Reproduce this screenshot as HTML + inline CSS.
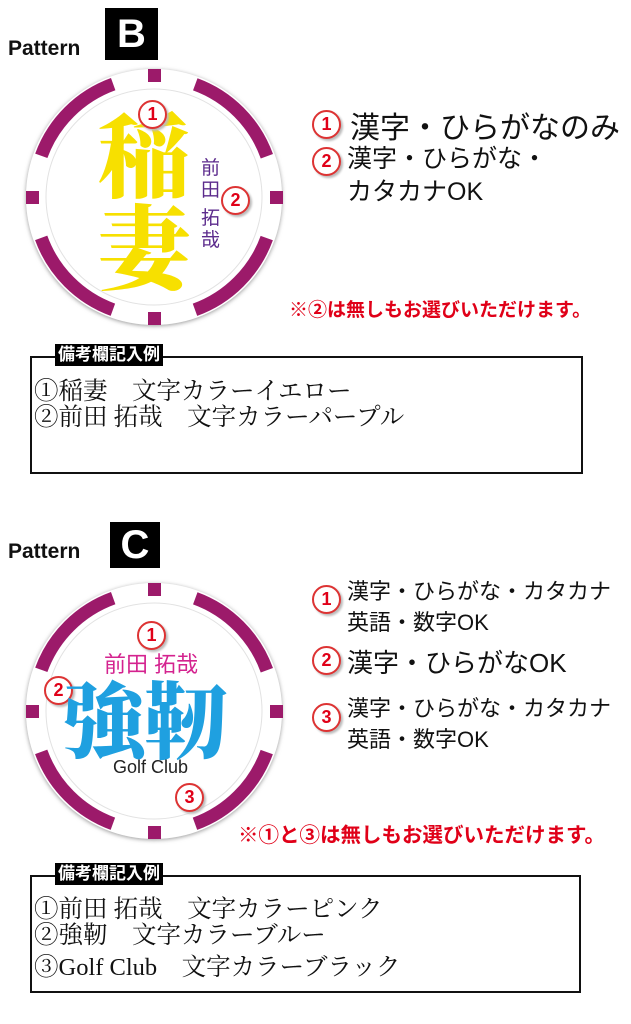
<!DOCTYPE html>
<html><head><meta charset="utf-8"><style>
body{margin:0;width:631px;height:1024px;background:#fff;position:relative;overflow:hidden;font-family:"Liberation Sans","Noto Sans CJK JP",sans-serif}
.a{position:absolute;white-space:nowrap}
.pt{font-weight:bold;font-size:21px;color:#111}
.bx{background:#000;color:#fff;font-weight:bold;font-size:40px;text-align:center;line-height:52px}
.m{position:absolute;width:25px;height:25px;border-radius:50%;background:#fff;border:2px solid #d33;color:#e00018;font-weight:bold;font-size:18px;text-align:center;line-height:25px;box-shadow:2px 2px 2px #bbb}
.t{color:#111}
.box{position:absolute;border:2.5px solid #111}
.lab{position:absolute;background:#000;color:#fff;font-weight:bold;font-size:17px;padding:0 3px;line-height:22px}
.ser{font-family:"Liberation Serif","Noto Serif CJK SC",serif;font-size:24.5px;color:#111;line-height:26px}
.note{color:#e00018;font-weight:bold}
</style></head><body>
<div class="a pt" style="left:8px;top:37px">Pattern</div>
<div class="a bx" style="left:105px;top:8px;width:53px;height:52px">B</div>
<svg class="a" style="left:0;top:0" width="631" height="1024">
<defs><filter id="sh"><feDropShadow dx="0" dy="1" stdDeviation="2" flood-color="#999"/></filter></defs>
<g>
<circle cx="154" cy="197" r="128" fill="#fff" filter="url(#sh)"/>
<circle cx="154" cy="197" r="120" fill="none" stroke="#9c1a6a" stroke-width="13" stroke-dasharray="104.7 83.8" stroke-dashoffset="-41.9"/>
<circle cx="154" cy="197" r="108" fill="none" stroke="#e2e2e2" stroke-width="1"/>
<rect x="148" y="69" width="13" height="13" fill="#9c1a6a"/><rect x="148" y="312" width="13" height="13" fill="#9c1a6a"/>
<rect x="26" y="191" width="13" height="13" fill="#9c1a6a"/><rect x="270" y="191" width="13" height="13" fill="#9c1a6a"/>
</g>
<g>
<circle cx="154" cy="711" r="128" fill="#fff" filter="url(#sh)"/>
<circle cx="154" cy="711" r="120" fill="none" stroke="#9c1a6a" stroke-width="13" stroke-dasharray="104.7 83.8" stroke-dashoffset="-41.9"/>
<circle cx="154" cy="711" r="108" fill="none" stroke="#e2e2e2" stroke-width="1"/>
<rect x="148" y="583" width="13" height="13" fill="#9c1a6a"/><rect x="148" y="826" width="13" height="13" fill="#9c1a6a"/>
<rect x="26" y="705" width="13" height="13" fill="#9c1a6a"/><rect x="270" y="705" width="13" height="13" fill="#9c1a6a"/>
</g>
</svg>
<div class="a" style="left:98px;top:105px;font-family:'Noto Serif CJK SC',serif;font-weight:900;font-size:92px;line-height:92px;color:#f7e000">稲<br>妻</div>
<div class="a" style="left:201px;top:158px;font-size:19px;line-height:22px;color:#5b2a8c;width:22px;white-space:normal">前田<br><span style="display:block;height:6px"></span>拓哉</div>
<div class="m" style="left:138px;top:100px">1</div>
<div class="m" style="left:221px;top:186px">2</div>

<div class="m" style="left:312px;top:110px">1</div>
<div class="a t" style="left:350px;top:103px;font-size:30px">漢字・ひらがなのみ</div>
<div class="m" style="left:312px;top:147px">2</div>
<div class="a t" style="left:347px;top:143px;font-size:25px;line-height:33px">漢字・ひらがな・<br>カタカナOK</div>
<div class="a note" style="left:289px;top:295px;font-size:19px">※②は無しもお選びいただけます。</div>

<div class="box" style="left:30px;top:356px;width:549px;height:114px"></div>
<div class="lab" style="left:55px;top:344px">備考欄記入例</div>
<div class="a ser" style="left:34px;top:379px">①稲妻　文字カラーイエロー<br>②前田 拓哉　文字カラーパープル</div>

<div class="a pt" style="left:8px;top:540px">Pattern</div>
<div class="a bx" style="left:110px;top:522px;width:50px;height:46px;line-height:46px">C</div>
<div class="m" style="left:137px;top:621px">1</div>
<div class="a" style="left:104px;top:647px;font-size:22px;color:#d4238f">前田 拓哉</div>
<div class="m" style="left:44px;top:676px">2</div>
<div class="a" style="left:62px;top:672px;font-family:'Noto Serif CJK SC',serif;font-weight:900;font-size:84px;line-height:90px;color:#1fa0e0;letter-spacing:-2px">強靭</div>
<div class="a" style="left:113px;top:757px;font-size:18px;color:#222">Golf Club</div>
<div class="m" style="left:175px;top:783px">3</div>

<div class="m" style="left:312px;top:585px">1</div>
<div class="a t" style="left:347px;top:576px;font-size:22px;line-height:31px">漢字・ひらがな・カタカナ<br>英語・数字OK</div>
<div class="m" style="left:312px;top:646px">2</div>
<div class="a t" style="left:347px;top:643px;font-size:26px">漢字・ひらがなOK</div>
<div class="m" style="left:312px;top:703px">3</div>
<div class="a t" style="left:347px;top:693px;font-size:22px;line-height:31px">漢字・ひらがな・カタカナ<br>英語・数字OK</div>
<div class="a note" style="left:238px;top:818px;font-size:20.5px">※①と③は無しもお選びいただけます。</div>

<div class="box" style="left:30px;top:875px;width:547px;height:114px"></div>
<div class="lab" style="left:55px;top:863px">備考欄記入例</div>
<div class="a ser" style="left:34px;top:897px">①前田 拓哉　文字カラーピンク<br>②強靭　文字カラーブルー</div>
<div class="a ser" style="left:34px;top:955px">③Golf Club　文字カラーブラック</div>
</body></html>
